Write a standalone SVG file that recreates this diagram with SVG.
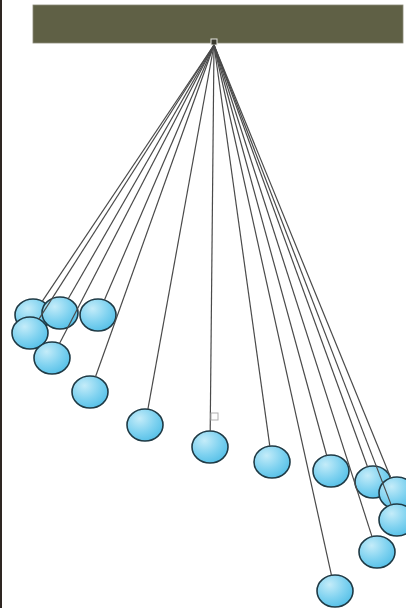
<svg xmlns="http://www.w3.org/2000/svg" width="406" height="608" viewBox="0 0 406 608">
<defs>
<radialGradient id="ballGrad" cx="0.35" cy="0.3" r="0.8">
<stop offset="0" stop-color="#c4ecf9"/>
<stop offset="0.55" stop-color="#7fd2f0"/>
<stop offset="1" stop-color="#4fbde6"/>
</radialGradient>
<style>
.ball{fill:url(#ballGrad);stroke:#1f3a45;stroke-width:1.6}
.str{stroke:#4a4a4a;stroke-width:1.2;fill:none}
</style>
</defs>
<rect x="0" y="0" width="406" height="608" fill="#ffffff"/>
<rect x="0" y="0" width="2" height="608" fill="#2e2622"/>
<g id="bar">
<rect x="33" y="5" width="370" height="38" fill="#5f6045" stroke="#8a8a78" stroke-width="0.8"/>
<rect x="211" y="39" width="6" height="6" fill="#3a3a2e" stroke="#e6e6e0" stroke-width="1"/>
</g>
<g id="balls">
<g id="ball1"><ellipse class="ball" cx="33" cy="315" rx="18" ry="16"/></g>
<g id="ball2"><ellipse class="ball" cx="60" cy="313" rx="18" ry="16"/></g>
<g id="ball3"><ellipse class="ball" cx="98" cy="315" rx="18" ry="16"/></g>
<g id="ball4"><ellipse class="ball" cx="30" cy="333" rx="18" ry="16"/></g>
<g id="ball5"><ellipse class="ball" cx="52" cy="358" rx="18" ry="16"/></g>
<g id="ball6"><ellipse class="ball" cx="90" cy="392" rx="18" ry="16"/></g>
<g id="ball7"><ellipse class="ball" cx="145" cy="425" rx="18" ry="16"/></g>
<g id="ball8"><ellipse class="ball" cx="210" cy="447" rx="18" ry="16"/></g>
<g id="ball9"><ellipse class="ball" cx="272" cy="462" rx="18" ry="16"/></g>
<g id="ball10"><ellipse class="ball" cx="331" cy="471" rx="18" ry="16"/></g>
<g id="ball11"><ellipse class="ball" cx="373" cy="482" rx="18" ry="16"/></g>
<g id="ball12"><ellipse class="ball" cx="397" cy="493" rx="18" ry="16"/></g>
<g id="ball13"><ellipse class="ball" cx="397" cy="520" rx="18" ry="16"/></g>
<g id="ball14"><ellipse class="ball" cx="377" cy="552" rx="18" ry="16"/></g>
<g id="ball15"><ellipse class="ball" cx="335" cy="591" rx="18" ry="16"/></g>
</g>
<g id="connectors" class="str">
<line x1="214" y1="45" x2="42.2" y2="301.3"/>
<line x1="214" y1="45" x2="68.2" y2="298.8"/>
<line x1="214" y1="45" x2="104.4" y2="300.1"/>
<line x1="214" y1="45" x2="38.9" y2="319.1"/>
<line x1="214" y1="45" x2="59.5" y2="343.5"/>
<line x1="214" y1="45" x2="95.5" y2="376.8"/>
<line x1="214" y1="45" x2="147.9" y2="409.2"/>
<line x1="214" y1="45" x2="210.2" y2="431"/>
<line x1="214" y1="45" x2="269.8" y2="446.1"/>
<line x1="214" y1="45" x2="326.7" y2="455.5"/>
<line x1="214" y1="45" x2="367.5" y2="466.8"/>
<line x1="214" y1="45" x2="390.8" y2="478"/>
<line x1="214" y1="45" x2="391.2" y2="504.9"/>
<line x1="214" y1="45" x2="372" y2="536.6"/>
<line x1="214" y1="45" x2="331.5" y2="575.3"/>
</g>
<rect id="marker" x="211" y="413" width="7" height="7" fill="#ffffff" stroke="#b0b0b0" stroke-width="1"/>
</svg>
